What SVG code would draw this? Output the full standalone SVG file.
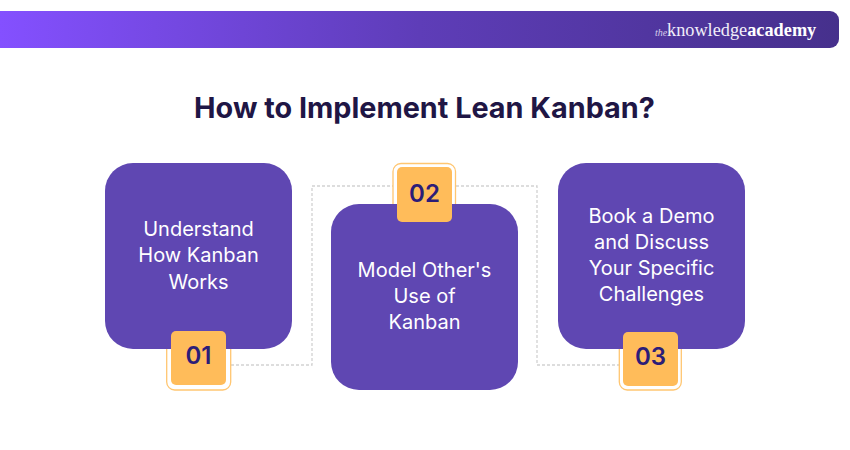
<svg xmlns="http://www.w3.org/2000/svg" width="850" height="450" viewBox="0 0 850 450">
<style>
.card{fill:#5f47b2}
.badge{fill:#ffbc5a}
.ring{fill:#fff;stroke:#ffc671;stroke-width:1.3}
.t{font-family:"Inter","Noto Sans",sans-serif;font-size:20px;fill:#fff;text-anchor:middle}
.n{font-family:"Inter","Noto Sans",sans-serif;font-size:24px;font-weight:600;fill:#2c1d78;text-anchor:middle}
.h{font-family:"Inter","Noto Sans",sans-serif;font-size:28.8px;font-weight:700;fill:#1f1645;text-anchor:middle}
.conn{fill:none;stroke:#d2d2d2;stroke-width:1.3;stroke-dasharray:3 2}
</style>
<defs>
<linearGradient id="g" x1="0" y1="0" x2="1" y2="0">
<stop offset="0" stop-color="#8450ff"/>
<stop offset="0.5" stop-color="#5e3db8"/>
<stop offset="1" stop-color="#46308c"/>
</linearGradient>
</defs>
<rect width="850" height="450" fill="#fff"/>
<g id="banner">
<path d="M0 11H830a9 9 0 0 1 9 9V39a9 9 0 0 1-9 9H0Z" fill="url(#g)"/>
<text x="655" y="35.500" font-family="'Liberation Serif',serif" font-size="10" font-style="italic" fill="#d5cdea">the</text>
<text x="667" y="36" font-family="'Liberation Serif',serif" font-size="18.300" fill="#f1eef9">knowledge<tspan font-weight="700" fill="#fff">academy</tspan></text>
</g>
<g id="title"><text class="h" x="424.500" y="118">How to Implement Lean Kanban?</text></g>
<g id="connectors">
<path class="conn" d="M231 365H312V186H393"/>
<path class="conn" d="M456 186H537V365H619"/>
</g>
<g id="node-01">
<rect class="ring" x="166.700" y="320" width="64" height="70" rx="8"/>
<rect class="card" x="105" y="163" width="187" height="186" rx="28"/>
<rect class="badge" x="171" y="331" width="55" height="54" rx="5"/>
<text class="n" x="198.500" y="364">01</text>
<text class="t" x="198.500" y="236">Understand</text>
<text class="t" x="198.500" y="262">How Kanban</text>
<text class="t" x="198.500" y="289">Works</text>
</g>
<g id="node-02">
<rect class="ring" x="393" y="163.500" width="62.500" height="60" rx="8"/>
<rect class="card" x="331" y="204" width="187" height="186" rx="28"/>
<rect class="badge" x="397" y="167" width="55" height="55" rx="5"/>
<text class="n" x="424.500" y="202">02</text>
<text class="t" x="424.500" y="277">Model Other's</text>
<text class="t" x="424.500" y="303">Use of</text>
<text class="t" x="424.500" y="329">Kanban</text>
</g>
<g id="node-03">
<rect class="ring" x="619.300" y="320" width="62" height="70" rx="8"/>
<rect class="card" x="558" y="163" width="187" height="186" rx="28"/>
<rect class="badge" x="623" y="332" width="55" height="54" rx="5"/>
<text class="n" x="650.500" y="365">03</text>
<text class="t" x="651.500" y="223">Book a Demo</text>
<text class="t" x="651.500" y="249">and Discuss</text>
<text class="t" x="651.500" y="275">Your Specific</text>
<text class="t" x="651.500" y="301">Challenges</text>
</g>
</svg>
